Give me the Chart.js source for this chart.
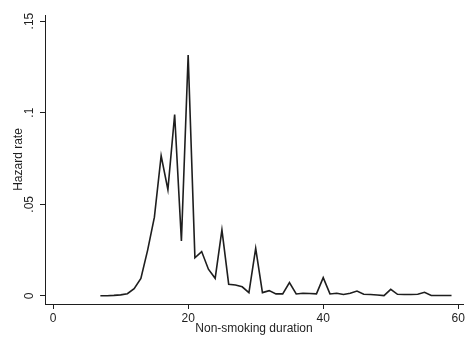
<!DOCTYPE html>
<html>
<head>
<meta charset="utf-8">
<script src="https://cdn.jsdelivr.net/npm/chart.js@4/dist/chart.umd.min.js"></script>
<style>
  html, body { margin: 0; padding: 0; background: #fff; }
  #wrap { width: 467px; height: 339px; }
</style>
</head>
<body>
<div id="wrap"><canvas id="hazardChart" width="467" height="339"></canvas></div>
<script>
// non-smoking duration (years) and estimated hazard rate
const durations = [7, 8, 9, 10, 11, 12, 13, 14, 15, 16, 17, 18, 19, 20, 21, 22, 23, 24, 25, 26, 27, 28, 29, 30,
    31, 32, 33, 34, 35, 36, 37, 38, 39, 40, 41, 42, 43, 44, 45, 46, 47, 48, 49, 50, 51, 52, 53, 54, 55, 56, 57, 58, 59];
const hazard = [0.0001, 0.0001, 0.0003, 0.0006, 0.0012, 0.0040, 0.0095, 0.0250, 0.0430, 0.0765, 0.0580, 0.0990, 0.0300, 0.1315,
    0.0208, 0.0242, 0.0146, 0.0096, 0.0360, 0.0064, 0.0060, 0.0050, 0.0018, 0.0260,
    0.0018, 0.0029, 0.0011, 0.0011, 0.0073, 0.0011, 0.0015, 0.0013, 0.0011, 0.0100,
    0.0011, 0.0015, 0.0008, 0.0015, 0.0027, 0.0009, 0.0008, 0.0005, 0.0002, 0.0036,
    0.0009, 0.0008, 0.0008, 0.0009, 0.0020, 0.0002, 0.0002, 0.0002, 0.0002];
const xTicks = [0, 20, 40, 60];
const yTicks = [0, 0.05, 0.1, 0.15];

const FONT = 'Liberation Sans, Arial, sans-serif';
const INK = '#1e1e1e';

function stataNum(v) {
    // Stata style: drop the leading zero, ".05"
    if (v === 0) return '0';
    return String(+v.toFixed(4)).replace(/^0\./, '.');
}

// y tick labels are drawn upright-rotated like Stata's vertical axis labels
const yLabelPlugin = {
    id: 'yLabels',
    afterDraw(chart) {
        const scale = chart.scales.y;
        const ctx = chart.ctx;
        ctx.save();
        ctx.fillStyle = INK;
        ctx.font = '12px ' + FONT;
        ctx.textAlign = 'center';
        ctx.textBaseline = 'middle';
        scale.ticks.forEach(t => {
            const py = scale.getPixelForValue(t.value);
            ctx.save();
            ctx.translate(scale.right - 15, py);
            ctx.rotate(-Math.PI / 2);
            ctx.fillText(stataNum(t.value), 0, 0);
            ctx.restore();
        });
        ctx.restore();
    }
};

new Chart(document.getElementById('hazardChart'), {
    type: 'line',
    data: {
        datasets: [{
            data: durations.map((d, i) => ({ x: d, y: hazard[i] })),
            borderColor: INK,
            borderWidth: 1.6,
            pointRadius: 0,
            tension: 0,
            fill: false
        }]
    },
    options: {
        responsive: false,
        animation: false,
        layout: { padding: { top: 15, right: 4, left: 0, bottom: 0 } },
        plugins: { legend: { display: false }, tooltip: { enabled: false } },
        scales: {
            x: {
                type: 'linear',
                min: -1.2,
                max: 60.7,
                afterBuildTicks: s => { s.ticks = xTicks.map(v => ({ value: v })); },
                afterFit: s => { s.height = 35; },
                border: { display: true, color: INK, width: 1 },
                grid: { display: true, drawOnChartArea: false, drawTicks: true, tickLength: 5, color: INK },
                ticks: { color: INK, font: { family: FONT, size: 12 }, padding: 2, maxRotation: 0 },
                title: { display: true, text: 'Non-smoking duration', color: INK, font: { family: FONT, size: 12 }, padding: { top: 0, bottom: 3 } }
            },
            y: {
                type: 'linear',
                min: -0.0044,
                max: 0.1533,
                afterBuildTicks: s => { s.ticks = yTicks.map(v => ({ value: v })); },
                afterFit: s => { s.width = 45; },
                border: { display: true, color: INK, width: 1 },
                grid: { display: true, drawOnChartArea: false, drawTicks: true, tickLength: 5, color: INK },
                ticks: { display: false },
                title: { display: true, text: 'Hazard rate', color: INK, font: { family: FONT, size: 12 }, padding: { top: 11, bottom: 0 } }
            }
        }
    },
    plugins: [yLabelPlugin]
});
</script>
</body>
</html>
